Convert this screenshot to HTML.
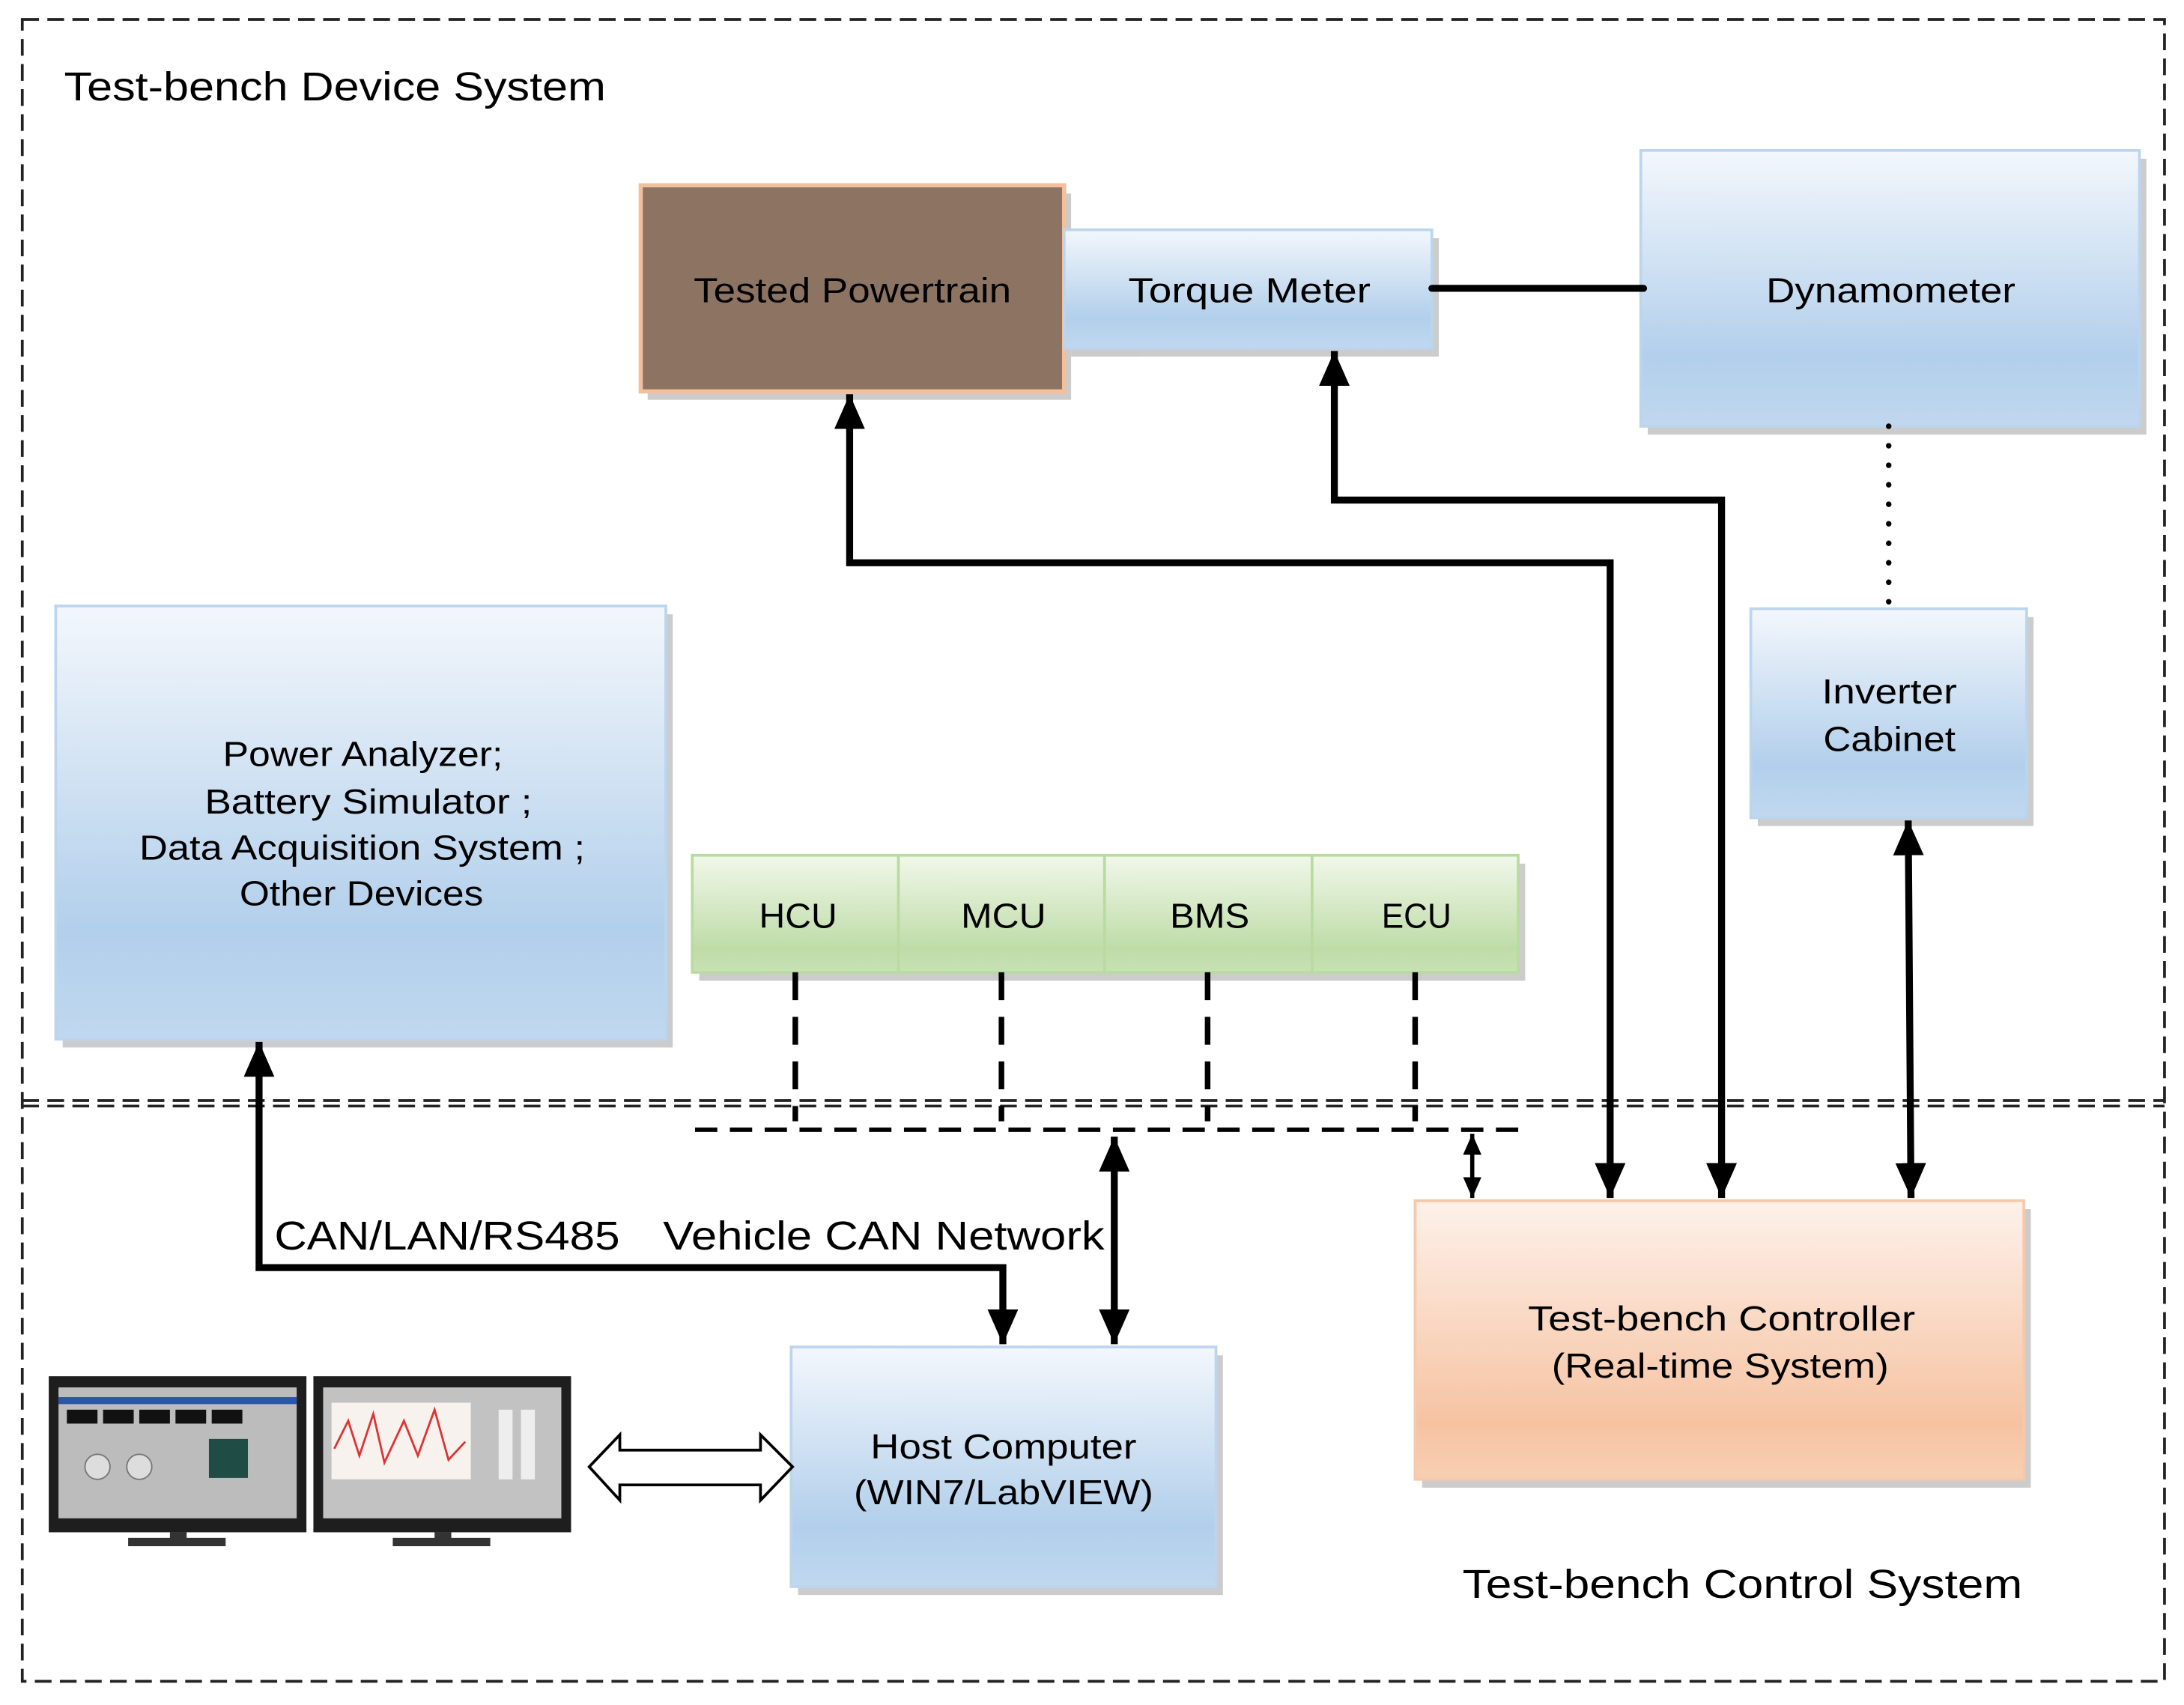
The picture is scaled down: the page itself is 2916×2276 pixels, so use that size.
<!DOCTYPE html>
<html><head><meta charset="utf-8"><style>html,body{margin:0;padding:0;background:#fff}svg{display:block}text{font-family:"Liberation Sans",sans-serif;fill:#000}</style></head><body>
<svg width="2916" height="2276" viewBox="0 0 1568 1224" preserveAspectRatio="none" xmlns="http://www.w3.org/2000/svg">
<defs>
<linearGradient id="bl" x1="0" y1="0" x2="0" y2="1"><stop offset="0" stop-color="#f3f7fc"/><stop offset="0.75" stop-color="#b2cfeb"/><stop offset="1" stop-color="#c0d8ef"/></linearGradient>
<linearGradient id="gr" x1="0" y1="0" x2="0" y2="1"><stop offset="0" stop-color="#f1f8ea"/><stop offset="0.8" stop-color="#bfdca8"/><stop offset="1" stop-color="#c8e2b3"/></linearGradient>
<linearGradient id="or" x1="0" y1="0" x2="0" y2="1"><stop offset="0" stop-color="#fdf1ea"/><stop offset="0.8" stop-color="#f6c3a2"/><stop offset="1" stop-color="#f8cfb3"/></linearGradient>
<marker id="ah" markerWidth="6" markerHeight="6" refX="5" refY="3" orient="auto-start-reverse" markerUnits="strokeWidth"><path d="M0,0.8 L5,3 L0,5.2 z" fill="#000"/></marker>
</defs>
<g fill="none" stroke="#222" stroke-width="2" stroke-dasharray="12,6">
<rect x="16" y="14" width="1538" height="1193"/>
<line x1="16" y1="790" x2="1554" y2="790"/>
<line x1="16" y1="794" x2="1554" y2="794"/>
</g>
<g lengthAdjust="spacingAndGlyphs">
<text x="46" y="72" font-size="29" textLength="389" lengthAdjust="spacingAndGlyphs">Test-bench Device System</text>
<text x="1050" y="1147" font-size="29" textLength="402" lengthAdjust="spacingAndGlyphs">Test-bench Control System</text>
</g>
<g fill="#aaa" opacity="0.6">
<rect x="465" y="139" width="304" height="148"/><rect x="769" y="171" width="264" height="85"/><rect x="1183" y="114" width="358" height="198"/><rect x="1262" y="443" width="198" height="150"/><rect x="45" y="441" width="438" height="311"/><rect x="502" y="620" width="593" height="84"/><rect x="1021" y="868" width="437" height="200"/><rect x="573" y="973" width="305" height="172"/>
</g>
<rect x="460" y="133" width="304" height="148" fill="#8d7462" stroke="#f4c09c" stroke-width="3"/>
<rect x="764" y="165" width="264" height="85" fill="url(#bl)" stroke="#bcd5ee" stroke-width="2"/>
<rect x="1178" y="108" width="358" height="198" fill="url(#bl)" stroke="#bcd5ee" stroke-width="2"/>
<rect x="1257" y="437" width="198" height="150" fill="url(#bl)" stroke="#bcd5ee" stroke-width="2"/>
<rect x="40" y="435" width="438" height="311" fill="url(#bl)" stroke="#bcd5ee" stroke-width="2"/>
<rect x="497" y="614" width="593" height="84" fill="url(#gr)" stroke="#b9dba0" stroke-width="2"/>
<g stroke="#b9dba0" stroke-width="2"><line x1="645" y1="614" x2="645" y2="698"/><line x1="793" y1="614" x2="793" y2="698"/><line x1="942" y1="614" x2="942" y2="698"/></g>
<rect x="1016" y="862" width="437" height="200" fill="url(#or)" stroke="#f6c9ab" stroke-width="2"/>
<rect x="568" y="967" width="305" height="172" fill="url(#bl)" stroke="#bcd5ee" stroke-width="2"/>
<g font-size="25">
<text x="498" y="217" textLength="228" lengthAdjust="spacingAndGlyphs">Tested Powertrain</text>
<text x="810" y="217" textLength="174" lengthAdjust="spacingAndGlyphs">Torque Meter</text>
<text x="1268" y="217" textLength="179" lengthAdjust="spacingAndGlyphs">Dynamometer</text>
<text x="1308" y="505" textLength="97" lengthAdjust="spacingAndGlyphs">Inverter</text><text x="1309" y="539" textLength="95" lengthAdjust="spacingAndGlyphs">Cabinet</text>
<text x="160" y="550" textLength="201" lengthAdjust="spacingAndGlyphs">Power Analyzer;</text><text x="147" y="584" textLength="235" lengthAdjust="spacingAndGlyphs">Battery Simulator ;</text><text x="100" y="617" textLength="320" lengthAdjust="spacingAndGlyphs">Data Acquisition System ;</text><text x="172" y="650" textLength="175" lengthAdjust="spacingAndGlyphs">Other Devices</text>
<text x="545" y="666" textLength="56" lengthAdjust="spacingAndGlyphs">HCU</text><text x="690" y="666" textLength="61" lengthAdjust="spacingAndGlyphs">MCU</text><text x="840" y="666" textLength="57" lengthAdjust="spacingAndGlyphs">BMS</text><text x="992" y="666" textLength="50" lengthAdjust="spacingAndGlyphs">ECU</text>
<text x="1097" y="955" textLength="278" lengthAdjust="spacingAndGlyphs">Test-bench Controller</text><text x="1114" y="989" textLength="242" lengthAdjust="spacingAndGlyphs">(Real-time System)</text>
<text x="625" y="1047" textLength="191" lengthAdjust="spacingAndGlyphs">Host Computer</text><text x="613" y="1080" textLength="215" lengthAdjust="spacingAndGlyphs">(WIN7/LabVIEW)</text>
</g>
<text x="197" y="897" font-size="29" textLength="248" lengthAdjust="spacingAndGlyphs">CAN/LAN/RS485</text>
<text x="476" y="897" font-size="29" textLength="317" lengthAdjust="spacingAndGlyphs">Vehicle CAN Network</text>
<line x1="1028" y1="207" x2="1180" y2="207" stroke="#000" stroke-width="5" stroke-linecap="round"/>
<line x1="1356" y1="306" x2="1356" y2="436" stroke="#000" stroke-width="4" stroke-dasharray="0,14" stroke-linecap="round"/>
<g stroke="#000" stroke-width="4" stroke-dasharray="20,12"><line x1="571" y1="698" x2="571" y2="805"/><line x1="719" y1="698" x2="719" y2="805"/><line x1="867" y1="698" x2="867" y2="805"/><line x1="1016" y1="698" x2="1016" y2="805"/></g>
<line x1="499" y1="811" x2="1097" y2="811" stroke="#000" stroke-width="3" stroke-dasharray="16,9"/>
<g fill="none" stroke="#000" stroke-width="5">
<polyline points="610,283 610,404 1156,404 1156,860" marker-start="url(#ah)" marker-end="url(#ah)"/>
<polyline points="958,252 958,359 1236,359 1236,860" marker-start="url(#ah)" marker-end="url(#ah)"/>
<line x1="1370" y1="589" x2="1372" y2="860" marker-start="url(#ah)" marker-end="url(#ah)"/>
<polyline points="186,748 186,910 720,910 720,965" marker-start="url(#ah)" marker-end="url(#ah)"/>
<line x1="800" y1="816" x2="800" y2="965" marker-start="url(#ah)" marker-end="url(#ah)"/>
</g>
<line x1="1057" y1="814" x2="1057" y2="860" stroke="#000" stroke-width="3" marker-start="url(#ah)" marker-end="url(#ah)"/>
<path d="M423,1053 L445,1030 L445,1041 L546,1041 L546,1030 L569,1053 L546,1077 L546,1066 L445,1066 L445,1077 Z" fill="#fff" stroke="#000" stroke-width="2"/>
<g>
<rect x="35" y="988" width="185" height="112" fill="#1e1e1e"/><rect x="42" y="996" width="171" height="94" fill="#bcbcbc"/><rect x="42" y="1003" width="171" height="5" fill="#2a56a8"/>
<rect x="48" y="1012" width="22" height="10" fill="#111"/><rect x="74" y="1012" width="22" height="10" fill="#111"/><rect x="100" y="1012" width="22" height="10" fill="#111"/><rect x="126" y="1012" width="22" height="10" fill="#111"/><rect x="152" y="1012" width="22" height="10" fill="#111"/>
<rect x="150" y="1033" width="28" height="28" fill="#1f4d45"/><circle cx="70" cy="1053" r="9" fill="#ddd" stroke="#777"/><circle cx="100" cy="1053" r="9" fill="#ddd" stroke="#777"/>
<rect x="122" y="1100" width="12" height="5" fill="#333"/><rect x="92" y="1104" width="70" height="6" fill="#333"/>
<rect x="225" y="988" width="185" height="112" fill="#1e1e1e"/><rect x="232" y="996" width="171" height="94" fill="#c2c2c2"/>
<rect x="238" y="1007" width="100" height="55" fill="#f7f2ee"/><polyline points="240,1040 250,1020 258,1045 268,1015 276,1050 290,1020 300,1045 312,1012 322,1048 334,1035" fill="none" stroke="#d33" stroke-width="1.5"/>
<rect x="358" y="1012" width="10" height="50" fill="#eee"/><rect x="374" y="1012" width="10" height="50" fill="#eee"/>
<rect x="312" y="1100" width="12" height="5" fill="#333"/><rect x="282" y="1104" width="70" height="6" fill="#333"/>
</g>
</svg>
</body></html>
